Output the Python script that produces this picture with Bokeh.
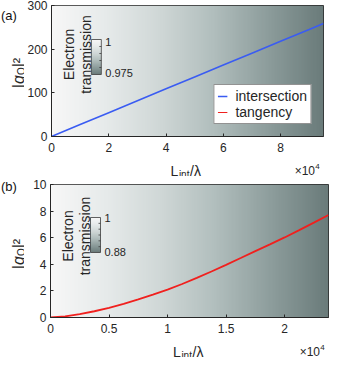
import numpy as np
from bokeh.plotting import figure
from bokeh.layouts import column, row
from bokeh.models import (Range1d, FixedTicker, NumeralTickFormatter, Label, Legend,
                          LegendItem, LinearColorMapper, Plot)
from bokeh.embed import file_html
from bokeh.resources import INLINE

# ---------------- data ----------------
# panel (a): intersection geometry, L_int/lambda in units of 1e4
L_a = [0, 1, 2, 3, 4, 5, 6, 7, 8, 9, 9.5]
g2_intersection = [0, 27.3, 54.6, 81.9, 109.2, 136.4, 163.6, 190.8, 218.0, 245.2, 259.0]
L_tangency_a = [float("nan")]          # tangency curve not visible in panel (a)
g2_tangency_a = [float("nan")]
# panel (b): tangency geometry
L_b = [0, 0.125, 0.25, 0.375, 0.5, 0.625, 0.75, 0.875, 1.0, 1.125, 1.25, 1.375,
       1.5, 1.625, 1.75, 1.875, 2.0, 2.125, 2.25, 2.375]
g2_tangency_b = [0, 0.09, 0.25, 0.47, 0.72, 1.02, 1.36, 1.72, 2.1, 2.52, 2.98, 3.46,
                 3.96, 4.47, 4.99, 5.5, 6.02, 6.57, 7.13, 7.71]

xrange_a = [0, 9.5]
yrange_a = [0, 300]
xrange_b = [0, 2.375]
yrange_b = [0, 10]
xticks_a = [0, 2, 4, 6, 8]
yticks_a = [0, 100, 200, 300]
xticks_b = [0, 0.5, 1, 1.5, 2]
yticks_b = [0, 2, 4, 6, 8, 10]

transmission_a = [1.0, 0.975]     # left edge -> right edge
transmission_b = [1.0, 0.88]
cbar_labels_a = ["1", "0.975"]
cbar_labels_b = ["1", "0.88"]
cbar_minor_a = [0.98, 0.985, 0.99, 0.995]
cbar_minor_b = [0.9, 0.92, 0.94, 0.96, 0.98]
cmap_stops = ["#6a7b7a", "#8c9c9b", "#b0bdbc", "#cfd7d6", "#e6eaea", "#f7f7f7"]
legend_labels = ["intersection", "tangency"]
panel_tags = ["(a)", "(b)"]

# ---------------- style ----------------
FONT = "Liberation Sans"
TXT = "#262626"
BLUE = "#3a5cf2"
RED = "#f0201e"
SL = 24      # left strip width (tag + y title)
SB = 18      # bottom strip height (x title + exponent)
HAS_FRAME_ALIGN = "frame_align" in Plot.properties()


def no_align(p):
    if HAS_FRAME_ALIGN:
        p.frame_align = False
    return p


def hex2rgb(h):
    h = h.lstrip("#")
    return [int(h[i:i + 2], 16) for i in (0, 2, 4)]


stops = np.array([hex2rgb(c) for c in cmap_stops], dtype=float)
pos = np.linspace(0, 1, len(stops))
t = np.linspace(0, 1, 256)
PALETTE = ["#%02x%02x%02x" % tuple(int(round(np.interp(tt, pos, stops[:, k]))) for k in range(3))
           for tt in t]


def add_label(p, text, x, y, size, align="left", baseline="alphabetic", angle=0,
              style="normal", color=TXT):
    p.add_layout(Label(x=x, y=y, text=text, text_font=FONT, text_font_size=f"{size}px",
                       text_color=color, text_align=align, text_baseline=baseline,
                       angle=angle, angle_units="deg", text_font_style=style))


def strip(w, h):
    s = figure(width=w, height=h, x_range=Range1d(0, w), y_range=Range1d(0, h),
               output_backend="svg", toolbar_location=None, min_border=0,
               x_axis_location=None, y_axis_location=None)
    s.outline_line_color = None
    s.xgrid.visible = False
    s.ygrid.visible = False
    s.background_fill_color = "white"
    s.border_fill_color = "white"
    return no_align(s)


def make_panel(W, H, top, right, xr, yr, xt, yt, trans, cbar_labels, cbar_minor,
               cbar_top, cbar_bot, lab1_t, lab2_t, elec_t, fmt=None):
    left = 50 - SL
    bottom = 22
    p = figure(width=left + W + right, height=top + H + bottom,
               x_range=Range1d(*xr), y_range=Range1d(*yr),
               output_backend="svg", toolbar_location=None,
               min_border_left=left, min_border_right=right,
               min_border_top=top, min_border_bottom=bottom)
    no_align(p)
    p.xgrid.visible = False
    p.ygrid.visible = False
    p.outline_line_color = TXT
    p.outline_line_width = 1
    p.outline_line_alpha = 1
    p.border_fill_color = "white"
    for ax in (p.xaxis[0], p.yaxis[0]):
        ax.major_tick_in = 3
        ax.major_tick_out = 0
        ax.minor_tick_in = 0
        ax.minor_tick_out = 0
        ax.axis_line_color = TXT
        ax.major_tick_line_color = TXT
        ax.major_label_text_font = FONT
        ax.major_label_text_font_size = "12px"
        ax.major_label_text_color = TXT
    p.xaxis.ticker = FixedTicker(ticks=xt)
    p.yaxis.ticker = FixedTicker(ticks=yt)
    p.xaxis.major_label_standoff = 6
    p.yaxis.major_label_standoff = 4
    if fmt is not None:
        p.xaxis.formatter = fmt

    def X(ox):
        return xr[0] + ox / W * (xr[1] - xr[0])

    def Y(oy):
        return yr[0] + oy / H * (yr[1] - yr[0])

    # background gradient (electron transmission along L)
    mapper = LinearColorMapper(palette=PALETTE, low=min(trans), high=max(trans))
    bg = np.linspace(trans[0], trans[1], 256).reshape(1, 256)
    p.image(image=[bg], x=xr[0], y=yr[0], dw=xr[1] - xr[0], dh=yr[1] - yr[0],
            color_mapper=mapper, level="image")

    # inset colour bar
    cb = np.linspace(min(trans), max(trans), 128).reshape(128, 1)
    yb, yt_ = Y(H - cbar_bot), Y(H - cbar_top)
    p.image(image=[cb], x=X(40), y=yb, dw=X(50) - X(40), dh=yt_ - yb, color_mapper=mapper)
    p.quad(left=[X(40)], right=[X(50)], bottom=[yb], top=[yt_], fill_alpha=0,
           line_color="#3c3c3c", line_width=0.8)
    lo, hi = min(trans), max(trans)
    ys = [yb + (v - lo) / (hi - lo) * (yt_ - yb) for v in cbar_minor]
    p.segment(x0=[X(50)] * len(ys), x1=[X(48)] * len(ys), y0=ys, y1=ys,
              line_color="#3c3c3c", line_width=0.8)
    add_label(p, cbar_labels[0], X(54), Y(H - lab1_t), 11, baseline="middle")
    add_label(p, cbar_labels[1], X(54), Y(H - lab2_t), 11, baseline="middle")
    add_label(p, "Electron", X(17.7), Y(H - elec_t), 14, align="center", angle=90)
    add_label(p, "transmission", X(34.3), Y(H - elec_t), 14, align="center", angle=90)
    return p


def left_strip(h, tag, tag_y, title_y):
    s = strip(SL, h)
    add_label(s, tag, 0.5, tag_y, 13, color="#111111")
    o0 = title_y - 15.2
    add_label(s, "|", 18, o0, 16, angle=90)
    add_label(s, "g", 18, o0 + 4.2, 16, angle=90, style="italic")
    add_label(s, "Q", 21, o0 + 13.1, 10, angle=90)
    add_label(s, "|\u00b2", 18, o0 + 20.9, 16, angle=90)
    return s


def bottom_strip(w, frame_left, W):
    s = strip(w, SB)
    cx = frame_left + W / 2
    add_label(s, "L", cx - 16.5, SB - 12, 14)
    add_label(s, "int", cx - 8.1, SB - 15.5, 10)
    add_label(s, "/\u03bb", cx + 3.0, SB - 12, 14)
    add_label(s, "\u00d710", frame_left + W - 8.5, SB - 12.5, 12, align="right")
    add_label(s, "4", frame_left + W - 8.2, SB - 8, 8)
    return s


# ---- panel (a) ----
HA, TOPA = 131, 5
pa = make_panel(273, HA, TOPA, 6, xrange_a, yrange_a, xticks_a, yticks_a, transmission_a,
                cbar_labels_a, cbar_minor_a, 34, 69, 36, 67, 49)
# ---- panel (b) ----
HB, TOPB = 133, 8
pb = make_panel(278, HB, TOPB, 1, xrange_b, yrange_b, xticks_b, yticks_b, transmission_b,
                cbar_labels_b, cbar_minor_b, 33, 68, 33.7, 67.3, 51.5,
                fmt=NumeralTickFormatter(format="0.[0]"))

r_int = pa.line(L_a, g2_intersection, line_color=BLUE, line_width=1.6)
r_tan_a = pa.line(L_tangency_a, g2_tangency_a, line_color=RED, line_width=1.2)
pb.line(L_b, g2_tangency_b, line_color=RED, line_width=1.8)

legend = Legend(items=[LegendItem(label=legend_labels[0], renderers=[r_int]),
                       LegendItem(label=legend_labels[1], renderers=[r_tan_a])],
                location="bottom_right")
legend.label_text_font = FONT
legend.label_text_font_size = "14px"
legend.label_text_color = TXT
legend.glyph_width = 10
legend.glyph_height = 14
legend.label_height = 14
legend.label_standoff = 8
legend.padding = 3
legend.spacing = 0
legend.margin = 12
legend.border_line_color = TXT
legend.border_line_width = 1
legend.background_fill_color = "white"
legend.background_fill_alpha = 1
pa.add_layout(legend)

ha = pa.height + SB
hb = pb.height + SB
la = left_strip(ha, panel_tags[0], ha - (TOPA + 10), ha - (TOPA + HA / 2 + 2))
lb = left_strip(hb, panel_tags[1], hb - (TOPB + 2), hb - (TOPB + HB / 2 + 3))
ba = bottom_strip(pa.width, 50 - SL, 273)
bb = bottom_strip(pb.width, 50 - SL, 278)

layout = column(row(la, column(pa, ba, spacing=0), spacing=0),
                row(lb, column(pb, bb, spacing=0), spacing=0), spacing=0)
open("out.html", "w").write(file_html(layout, INLINE))
